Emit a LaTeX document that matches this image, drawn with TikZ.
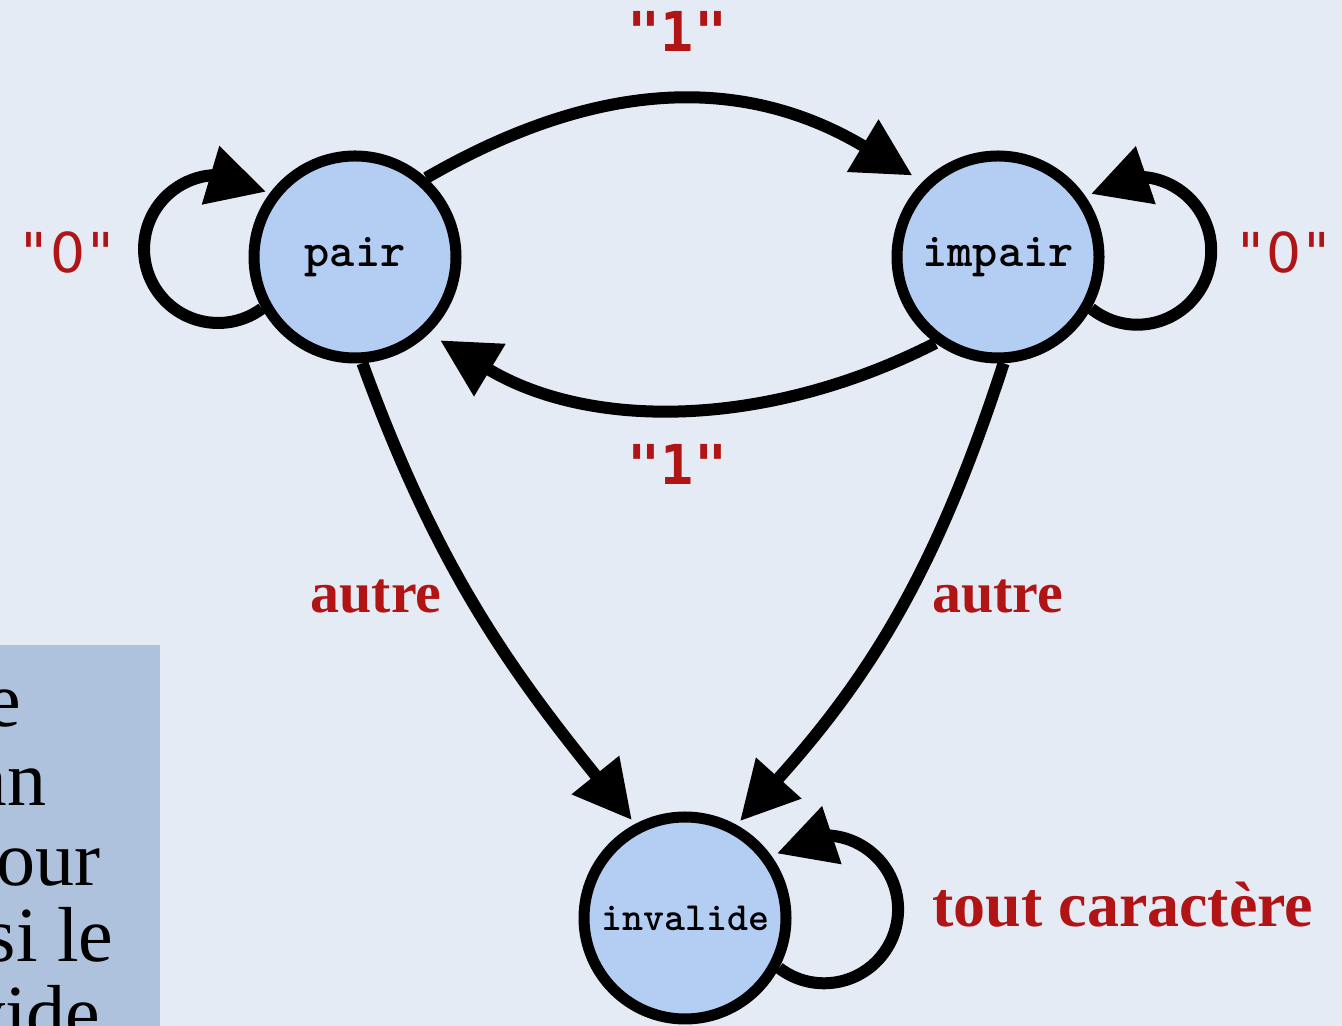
\documentclass[tikz,border=0pt]{standalone}
\usepackage{fontspec}
\setmainfont{Liberation Serif}
\newfontfamily\quotefont{DejaVu Sans Mono}
\newfontfamily\digitfont{DejaVu Sans}
\usetikzlibrary{arrows.meta}

\definecolor{paper}{RGB}{229,235,245}
\definecolor{statefill}{RGB}{179,206,242}
\definecolor{labelred}{RGB}{176,20,20}
\definecolor{sidebox}{RGB}{174,194,221}

% a plain (undotted) zero set on the monospaced grid
\newcommand{\plainzero}{\makebox[0.602em]{\digitfont 0}}

\tikzset{
  state/.style={circle, draw=black, line width=5.5pt, fill=statefill,
    minimum size=101pt, inner sep=0pt, font=\ttfamily\bfseries\fontsize{24}{24}\selectfont},
  trans/.style={line width=6pt, draw=black,
    -{Triangle[length=29pt,width=29pt]}},
  symlabel/.style={text=labelred, anchor=base, inner sep=0pt,
    font=\quotefont\fontsize{27.5}{27.5}\selectfont},
  wordlabel/.style={text=labelred, inner sep=0pt,
    font=\bfseries\fontsize{29}{29}\selectfont},
  boxtext/.style={anchor=base east, inner sep=0pt, text=black,
    font=\fontsize{39}{39}\selectfont}
}

\begin{document}
\begin{tikzpicture}[x=0.5pt, y=0.5pt]
  \useasboundingbox (0,0) rectangle (1342,1026);
  \clip (0,0) rectangle (1342,1026);
  \fill[paper] (0,0) rectangle (1342,1026);

  % side panel with the running text
  \fill[sidebox] (0,0) rectangle (160,381);
  \node[boxtext] (t1) at (22,299) {e};
  \node[boxtext] (t2) at (47,220) {an};
  \node[boxtext] (t3) at (101,140) {pour};
  \node[boxtext] (t4) at (114,64) {si le};
  \node[boxtext] (t5) at (101,-14) {vide};

  % states
  \node[state] (pair) at (355,769) {pair};
  \node[state] (impair) at (998,769) {impair};
  \node[state, font=\ttfamily\bfseries\fontsize{20}{20}\selectfont]
    (invalide) at (685,108) {invalide};

  % transitions between states
  \draw[trans, shorten >=6pt] (pair.48) to[out=30, in=149, looseness=1.05] (impair.135);
  \draw[trans, shorten >=6.5pt] (impair.234) to[out=207, in=329, looseness=0.95] (pair.-46);
  \draw[trans, shorten >=2.5pt] (pair.274) to[out=-70, in=129] (invalide.118.6);
  \draw[trans, shorten >=2.5pt] (impair.273.7) to[out=252, in=48] (invalide.61);

  % self loops: a round arc, then a short straight run into the state
  \draw[trans, shorten >=2pt] (pair.209)
    arc[start angle=-53.7, end angle=-264.5, radius=37pt] -- (pair.143);
  \draw[trans, shorten >=3pt] (impair.-29)
    arc[start angle=231.5, end angle=447, radius=37pt] -- (impair.35);
  \draw[trans, shorten >=3pt] (invalide.-28)
    arc[start angle=232.5, end angle=445, radius=37pt] -- (invalide.36);

  % transition labels
  \node[symlabel, font=\quotefont\bfseries\fontsize{27.5}{27.5}\selectfont] (one1) at (677.5,974) {"1"};
  \node[symlabel, font=\quotefont\bfseries\fontsize{27.5}{27.5}\selectfont] (one2) at (677.5,541) {"1"};
  \node[symlabel] (zero1) at (67.5,753) {"\plainzero"};
  \node[symlabel] (zero2) at (1284,753) {"\plainzero"};
  \node[wordlabel, anchor=base] (other1) at (376,413) {autre};
  \node[wordlabel, anchor=base west] (other2) at (932,413) {autre};
  \node[wordlabel, anchor=base west, font=\bfseries\fontsize{32}{32}\selectfont]
    (any) at (932,99) {tout caractère};
\end{tikzpicture}
\end{document}
